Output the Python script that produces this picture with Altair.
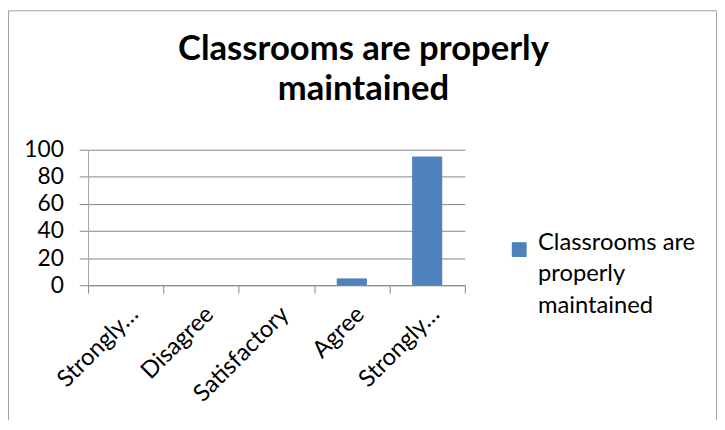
import altair as alt
import pandas as pd

TITLE_LINES = ["Classrooms are properly", "maintained"]
SERIES = "Classrooms are properly maintained"
LEGEND_LINES = ["Classrooms are", "properly", "maintained"]
CATEGORIES = ["Strongly disagree", "Disagree", "Satisfactory", "Agree", "Strongly agree"]
VALUES = [0, 0, 0, 5, 95]
Y_TICKS = [0, 20, 40, 60, 80, 100]

df = pd.DataFrame({"category": CATEGORIES, "value": VALUES, "series": [SERIES] * len(CATEGORIES)})

GRAY = "#868686"
BLUE = "#4F81BD"
FONT = "Lato"

legend_expr = "[" + ",".join("'" + s + "'" for s in LEGEND_LINES) + "]"

bars = alt.Chart(df).mark_bar(width=alt.RelativeBandSize(0.4), color=BLUE).encode(
    x=alt.X(
        "category:N",
        sort=CATEGORIES,
        title=None,
        scale=alt.Scale(paddingInner=0, paddingOuter=0),
        axis=alt.Axis(
            labelAngle=-45,
            labelFontSize=24,
            labelColor="#000000",
            labelPadding=9,
            tickBand="extent",
            tickSize=8,
            tickColor=GRAY,
            domainColor=GRAY,
            grid=False,
            labelExpr="length(datum.label) > 12 ? slice(datum.label, 0, 8) + '…' : datum.label",
        ),
    ),
    y=alt.Y(
        "value:Q",
        title=None,
        scale=alt.Scale(domain=[0, 100]),
        axis=alt.Axis(
            values=Y_TICKS,
            labelFontSize=23,
            labelColor="#000000",
            labelPadding=16,
            tickSize=9,
            tickColor=GRAY,
            domainColor="#a0a0a0",
            grid=True,
            gridColor=GRAY,
        ),
    ),
    color=alt.Color(
        "series:N",
        scale=alt.Scale(range=[BLUE]),
        legend=alt.Legend(
            title=None,
            orient="none",
            legendX=424,
            legendY=89,
            symbolType="square",
            symbolSize=225,
            symbolStrokeWidth=0,
            labelFontSize=24,
            labelColor="#000000",
            labelBaseline="alphabetic",
            labelOffset=7,
            labelLimit=300,
            labelExpr=legend_expr,
        ),
    ),
)

border = alt.Chart(alt.Data(values=[{}])).mark_rect(
    fill=None, stroke="#a0a0a0", strokeWidth=1
).encode(
    x=alt.value(-80.5), x2=alt.value(635.5), y=alt.value(-140.5), y2=alt.value(400)
)

chart = alt.layer(border, bars).properties(
    width=381,
    height=137,
    padding={"left": 81, "top": 141, "right": 255, "bottom": 134},
    autosize=alt.AutoSizeParams(type="none"),
    title=alt.TitleParams(
        text=TITLE_LINES,
        fontSize=35,
        font=FONT,
        fontWeight="bold",
        color="#000000",
        anchor="middle",
        dx=88,
        dy=98,
        offset=0,
        lineHeight=41,
    ),
).configure(
    font=FONT, style={"guide-label": {"lineHeight": 32}}
).configure_view(stroke=None)

chart.save("out.html", embed_options={"renderer": "svg", "actions": False})
